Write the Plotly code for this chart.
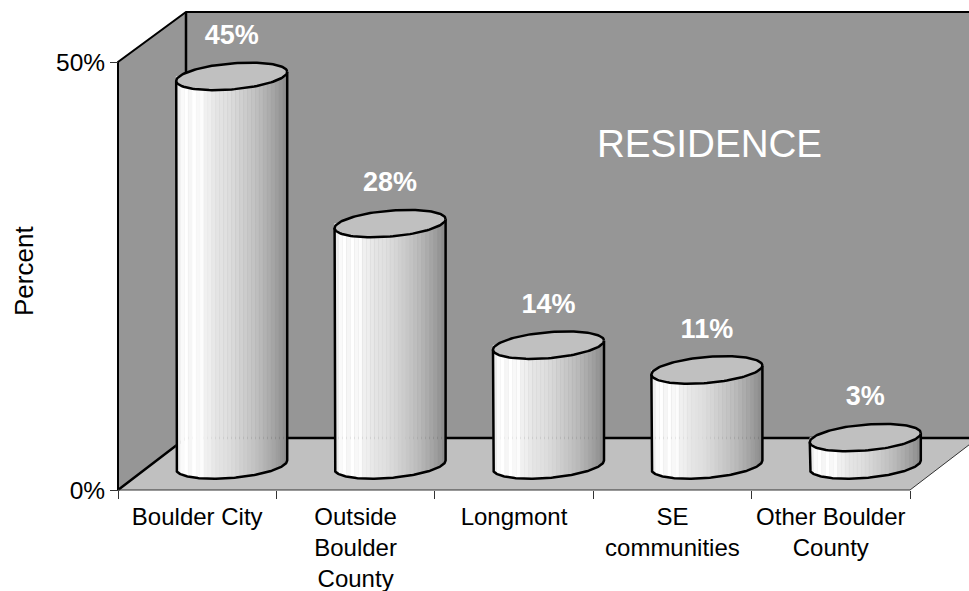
import numpy as np
import plotly.graph_objects as go

categories = ["Boulder City", "Outside<br>Boulder<br>County", "Longmont", "SE<br>communities", "Other Boulder<br>County"]
values = [45.4, 28.2, 14.0, 11.1, 3.2]
value_labels = ["45%", "28%", "14%", "11%", "3%"]
band_grays = [236, 250, 255, 246, 255, 248, 252, 240, 238, 232, 228, 226, 224, 221, 217, 213,
              208, 204, 199, 195, 190, 185, 178, 172, 165, 158, 150, 142]

W, H = 969, 591
X0_PX, X_STEP = 118.0, 158.4          # pixels of the first tick, pixels per category
Y0_PX, Y_STEP = 490.0, 8.56           # pixels of 0 %, pixels per percent
DX, DY = 68.0 / X_STEP, 52.0 / Y_STEP  # depth of the chart box in axis units
DY_TOP = 50.0 / Y_STEP
CX_OFF = 0.5 + 34.5 / X_STEP           # cylinder centre within its category
BASE = 25.0 / Y_STEP                   # cylinder base level
A = 55.5 / X_STEP
B = 13.0 / Y_STEP
S = 4.5 / Y_STEP
n = len(categories)
xrange = [-X0_PX / X_STEP, (W - X0_PX) / X_STEP]
yrange = [-(H - Y0_PX) / Y_STEP, Y0_PX / Y_STEP]
Xmax = xrange[1] + 0.01

fig = go.Figure()


def poly(xs, ys, fill):
    fig.add_trace(go.Scatter(x=xs, y=ys, mode="lines", fill="toself", fillcolor=fill,
                             line=dict(width=0), hoverinfo="skip", showlegend=False))


def line(xs, ys, w=2.5, color="#000"):
    fig.add_trace(go.Scatter(x=xs, y=ys, mode="lines", line=dict(color=color, width=w),
                             hoverinfo="skip", showlegend=False))


# walls and floor
TOP = 50.0
poly([0, DX, DX, 0, 0], [TOP, TOP + DY_TOP, DY, 0, TOP], "#969696")
poly([DX, Xmax, Xmax, DX, DX], [TOP + DY_TOP, TOP + DY_TOP, DY, DY, TOP + DY_TOP], "#969696")
floor_dy = (Xmax - n) / DX * DY
poly([0, n, Xmax, Xmax, DX, 0], [0, 0, floor_dy, DY, DY, 0], "#c0c0c0")
line([0, 0, DX, Xmax], [0, TOP, TOP + DY_TOP, TOP + DY_TOP], 2)
line([DX, DX], [TOP + DY_TOP, DY], 2.5)
line([0, DX, Xmax], [0, DY, DY], 2.5)
line([0, n], [0, 0], 1, "#333")
line([n, Xmax], [0, floor_dy], 1, "#333")


def lower_arc(cx, u):
    return cx + A * u, BASE + S * u - B * np.sqrt(np.clip(1 - u * u, 0, 1))


# cylinder bodies, one trace per shading band
nb = len(band_grays)
edges = np.linspace(-1, 1, nb + 1)
for k, g in enumerate(band_grays):
    xs, ys = [], []
    for i, v in enumerate(values):
        cx = i + CX_OFF
        u = np.linspace(edges[k], edges[k + 1], 5)
        ax, ay = lower_arc(cx, u)
        top_y = BASE + v
        xs += list(ax) + [ax[-1], ax[0], ax[0], None]
        ys += list(ay) + [top_y, top_y, ay[0], None]
    col = f"rgb({g},{g},{g})"
    fig.add_trace(go.Scatter(x=xs, y=ys, mode="lines", fill="toself", fillcolor=col,
                             line=dict(width=0.4, color=col), hoverinfo="skip", showlegend=False))

# outlines and caps
t = np.linspace(0, 2 * np.pi, 121)
for i, v in enumerate(values):
    cx = i + CX_OFF
    u = np.cos(np.linspace(np.pi, 0, 121))
    ax, ay = lower_arc(cx, u)
    top = BASE + v
    line([cx - A] + list(ax) + [cx + A], [top - S] + list(ay) + [top + S], 2.5)
    ex = cx + A * np.cos(t)
    ey = top + S * np.cos(t) + B * np.sin(t)
    fig.add_trace(go.Scatter(x=ex, y=ey, mode="lines", fill="toself", fillcolor="#c0c0c0",
                             line=dict(color="#000", width=2.5), hoverinfo="skip", showlegend=False))

# value labels
fig.add_trace(go.Scatter(
    x=[i + CX_OFF for i in range(n)],
    y=[BASE + v + 39 / Y_STEP for v in values],
    mode="text", text=value_labels, textposition="middle center",
    textfont=dict(family="Liberation Sans", size=27, color="#fff", weight="bold"),
    hoverinfo="skip", showlegend=False))

fig.update_layout(
    width=W, height=H, autosize=False,
    margin=dict(l=0, r=0, t=0, b=0),
    paper_bgcolor="#fff", plot_bgcolor="#fff",
    font=dict(family="Liberation Sans", color="#000"),
    xaxis=dict(range=xrange, domain=[0, 1], anchor="free", position=(H - Y0_PX) / H, automargin=False,
               tickmode="array", tickvals=[i + 0.5 for i in range(n)], ticktext=categories,
               ticks="outside", ticklen=5, tickcolor="rgba(0,0,0,0)",
               tickfont=dict(size=24), showgrid=False, zeroline=False, showline=False,
               minor=dict(tickmode="array", tickvals=list(range(n + 1)), ticks="outside",
                          ticklen=8, tickwidth=1, tickcolor="#333", showgrid=False)),
    yaxis=dict(range=yrange, domain=[0, 1], anchor="free", position=X0_PX / W, automargin=False,
               tickmode="array", tickvals=[0, 50], ticktext=["0%", "50%"],
               ticks="outside", ticklen=8, tickwidth=1, tickcolor="#333",
               tickfont=dict(size=24.5), showgrid=False, zeroline=False, showline=False),
    annotations=[
        dict(text="RESIDENCE", x=709.5 / W, y=1 - 143 / H, xref="paper", yref="paper",
             showarrow=False, font=dict(size=38.6, color="#fff"), xanchor="center", yanchor="middle"),
        dict(text="Percent", x=24 / W, y=1 - 271 / H, xref="paper", yref="paper", textangle=-90,
             showarrow=False, font=dict(size=26, color="#000"), xanchor="center", yanchor="middle"),
    ],
)
fig.write_html("out.html", config={"displayModeBar": False},
               post_script="document.body.style.margin='0';")
